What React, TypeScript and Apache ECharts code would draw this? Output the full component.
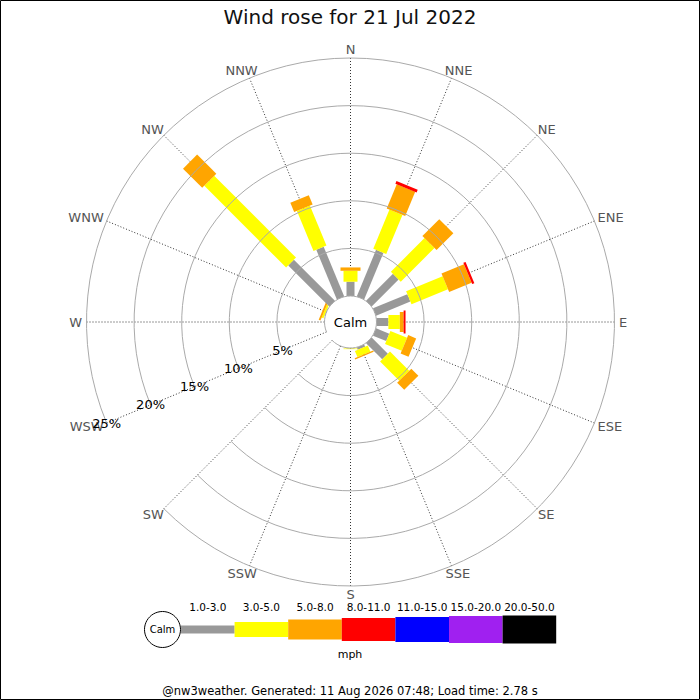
import * as echarts from "echarts";
import { useEffect, useRef } from "react";

// compass points, clockwise from north
const directions = [
  "N", "NNE", "NE", "ENE", "E", "ESE", "SE", "SSE",
  "S", "SSW", "SW", "WSW", "W", "WNW", "NW", "NNW",
];

// speed bands (mph)
const bands = ["1.0-3.0", "3.0-5.0", "5.0-8.0", "8.0-11.0", "11.0-15.0", "15.0-20.0", "20.0-50.0"];
const bandColors = ["#999999", "#ffff00", "#ffa500", "#ff0000", "#0000ff", "#a020f0", "#000000"];

// % of time per direction for each band (N .. NNW)
const band1to3 = [1.5, 5.3, 4.0, 3.9, 1.25, 1.5, 2.4, 0.25, 0.05, 0, 0, 0, 0, 0.05, 6.1, 5.65];
const band3to5 = [1.15, 4.45, 5.0, 4.15, 1.2, 1.9, 2.85, 0.7, 0.07, 0, 0, 0, 0, 0.2, 12.15, 4.55];
const band5to8 = [0.35, 2.75, 2.5, 2.55, 0.4, 0.9, 1.05, 0.15, 0, 0, 0, 0, 0, 0.2, 2.85, 1.05];
const band8to11 = [0, 0.3, 0, 0.25, 0.2, 0, 0, 0, 0, 0, 0, 0, 0, 0, 0, 0];
const band11to15 = [0, 0, 0, 0, 0, 0, 0, 0, 0, 0, 0, 0, 0, 0, 0, 0];
const band15to20 = [0, 0, 0, 0, 0, 0, 0, 0, 0, 0, 0, 0, 0, 0, 0, 0];
const band20to50 = [0, 0, 0, 0, 0, 0, 0, 0, 0, 0, 0, 0, 0, 0, 0, 0];

const bandValues = [band1to3, band3to5, band5to8, band8to11, band11to15, band15to20, band20to50];

// radial ticks (%)
const radiusTicks = [0, 5, 10, 15, 20, 25];

// bar thickness per band, px
const barWidths = [8, 14, 20, 23, 25, 27, 28];
const legendHeights = [8, 15, 20, 23, 25, 27, 28];

const FONT = "DejaVu Sans";

const measure = (text: string, size: number) => {
  const ctx = document.createElement("canvas").getContext("2d");
  if (!ctx) return text.length * size * 0.6;
  ctx.font = `${size}px "${FONT}"`;
  return ctx.measureText(text).width;
};

const Chart = () => {
  const chartRef = useRef(null);

  useEffect(() => {
    const chart = echarts.init(chartRef.current, null, { renderer: "svg" });

    // the radius axis sits on the start angle, so begin the categories at WSW
    const startIdx = directions.indexOf("WSW");
    const angleCats = directions.map((_, i) => directions[(i + startIdx) % 16]);

    // stacked segments: [end, angleIndex, start, band]
    const segments: number[][] = [];
    directions.forEach((dir, d) => {
      let acc = 0;
      bandValues.forEach((vals, b) => {
        const v = vals[d];
        if (v > 0) segments.push([acc + v, angleCats.indexOf(dir), acc, b]);
        acc += v;
      });
    });

    const rMax = radiusTicks[radiusTicks.length - 1];

    const legendX0 = 181;
    const legendSeg = 53.6;
    const legendY = 629.5;

    const legendGraphics: any[] = [
      {
        type: "circle",
        shape: { cx: 162.5, cy: legendY, r: 18 },
        style: { fill: "#fff", stroke: "#000", lineWidth: 1 },
      },
      {
        type: "text",
        x: 162.5,
        y: legendY,
        style: { text: "Calm", fontSize: 10, fontFamily: FONT, fill: "#000", align: "center", verticalAlign: "middle" },
      },
      {
        type: "text",
        x: 350,
        y: 654,
        style: { text: "mph", fontSize: 11, fontFamily: FONT, fill: "#000", align: "center", verticalAlign: "middle" },
      },
    ];
    bands.forEach((label, b) => {
      const h = legendHeights[b];
      legendGraphics.push({
        type: "rect",
        shape: { x: legendX0 + b * legendSeg, y: legendY - h / 2, width: legendSeg, height: h },
        style: { fill: bandColors[b] },
      });
      legendGraphics.push({
        type: "text",
        x: legendX0 + (b + 0.5) * legendSeg,
        y: 606.5,
        style: { text: label, fontSize: 10.5, fontFamily: FONT, fill: "#000", align: "center", verticalAlign: "middle" },
      });
    });

    const baseGraphics: any[] = [
      {
        type: "text",
        x: 350.5,
        y: 322,
        z: 10,
        style: { text: "Calm", fontSize: 13, fontFamily: FONT, fill: "#000", align: "center", verticalAlign: "middle" },
      },
      ...legendGraphics,
      {
        type: "text",
        x: 350,
        y: 691,
        style: {
          text: "@nw3weather. Generated: 11 Aug 2026 07:48; Load time: 2.78 s",
          fontSize: 11.5,
          fontFamily: FONT,
          fill: "#000",
          align: "center",
          verticalAlign: "middle",
        },
      },
      {
        type: "rect",
        shape: { x: 0.5, y: 0.5, width: 699, height: 699 },
        style: { fill: "none", stroke: "#000", lineWidth: 1 },
        z: 10,
      },
    ];

    const options = {
      animation: false,
      backgroundColor: "#fff",
      textStyle: { fontFamily: FONT },
      title: {
        text: "Wind rose for 21 Jul 2022",
        left: "center",
        top: 2,
        textStyle: { fontSize: 20, fontWeight: "normal", color: "#111", fontFamily: FONT },
      },
      polar: {
        center: [350.5, 322],
        radius: [26, 264],
      },
      angleAxis: {
        type: "category",
        data: angleCats,
        startAngle: 202.5,
        clockwise: true,
        boundaryGap: false,
        axisLine: { show: false },
        axisTick: { show: false },
        axisLabel: { show: false },
        splitLine: { show: true, lineStyle: { color: "#333", width: 1, type: [1, 2] } },
        z: 1,
      },
      radiusAxis: {
        type: "value",
        min: 0,
        max: rMax,
        interval: 5,
        axisLine: { show: false },
        axisTick: { show: false },
        axisLabel: {
          formatter: (v: number) => (v === 0 ? "" : v + "%"),
          color: "#000",
          fontSize: 13,
          margin: 0,
          align: "center",
          verticalAlign: "middle",
          fontFamily: FONT,
          hideOverlap: false,
        },
        splitLine: { show: true, lineStyle: { color: "#aaa", width: 1 } },
        z: 3,
      },
      series: [
        {
          name: "Wind",
          type: "custom",
          coordinateSystem: "polar",
          data: segments,
          z: 2,
          renderItem: (_params: any, api: any) => {
            const end = api.value(0);
            const ai = api.value(1);
            const start = api.value(2);
            const band = api.value(3);
            const a = api.coord([0, ai]);
            const b = api.coord([rMax, ai]);
            const len = Math.hypot(b[0] - a[0], b[1] - a[1]);
            const ux = (b[0] - a[0]) / len;
            const uy = (b[1] - a[1]) / len;
            const hw = barWidths[band] / 2;
            const nx = -uy * hw;
            const ny = ux * hw;
            const p0 = api.coord([start, ai]);
            const p1 = api.coord([end, ai]);
            return {
              type: "polygon",
              shape: {
                points: [
                  [p0[0] + nx, p0[1] + ny],
                  [p1[0] + nx, p1[1] + ny],
                  [p1[0] - nx, p1[1] - ny],
                  [p0[0] - nx, p0[1] - ny],
                ],
              },
              style: { fill: bandColors[band] },
            };
          },
        },
      ],
      graphic: baseGraphics,
    };

    chart.setOption(options);

    // compass labels sit just outside the outer ring
    const labelSize = 13;
    const dirLabels = angleCats.map((name, i) => {
      const inner = chart.convertToPixel({ seriesIndex: 0 }, [0, i]) as number[];
      const outer = chart.convertToPixel({ seriesIndex: 0 }, [rMax, i]) as number[];
      const len = Math.hypot(outer[0] - inner[0], outer[1] - inner[1]);
      const ux = (outer[0] - inner[0]) / len;
      const uy = (outer[1] - inner[1]) / len;
      const w = measure(name, labelSize);
      return {
        type: "text",
        x: outer[0] + ux * (4.5 + w / 2),
        y: outer[1] + uy * 8.5,
        style: {
          text: name,
          fontSize: labelSize,
          fontFamily: FONT,
          fill: "#555",
          align: "center",
          verticalAlign: "middle",
        },
      };
    });
    chart.setOption({ graphic: [...baseGraphics, ...dirLabels] });

    const handleResize = () => chart.resize();
    window.addEventListener("resize", handleResize);

    return () => {
      window.removeEventListener("resize", handleResize);
      chart.dispose();
    };
  }, []);

  return (
    <div
      ref={chartRef}
      style={{ position: "absolute", left: 0, top: 0, width: "700px", height: "700px" }}
    />
  );
};

export default function App() {
  return <Chart />;
}
